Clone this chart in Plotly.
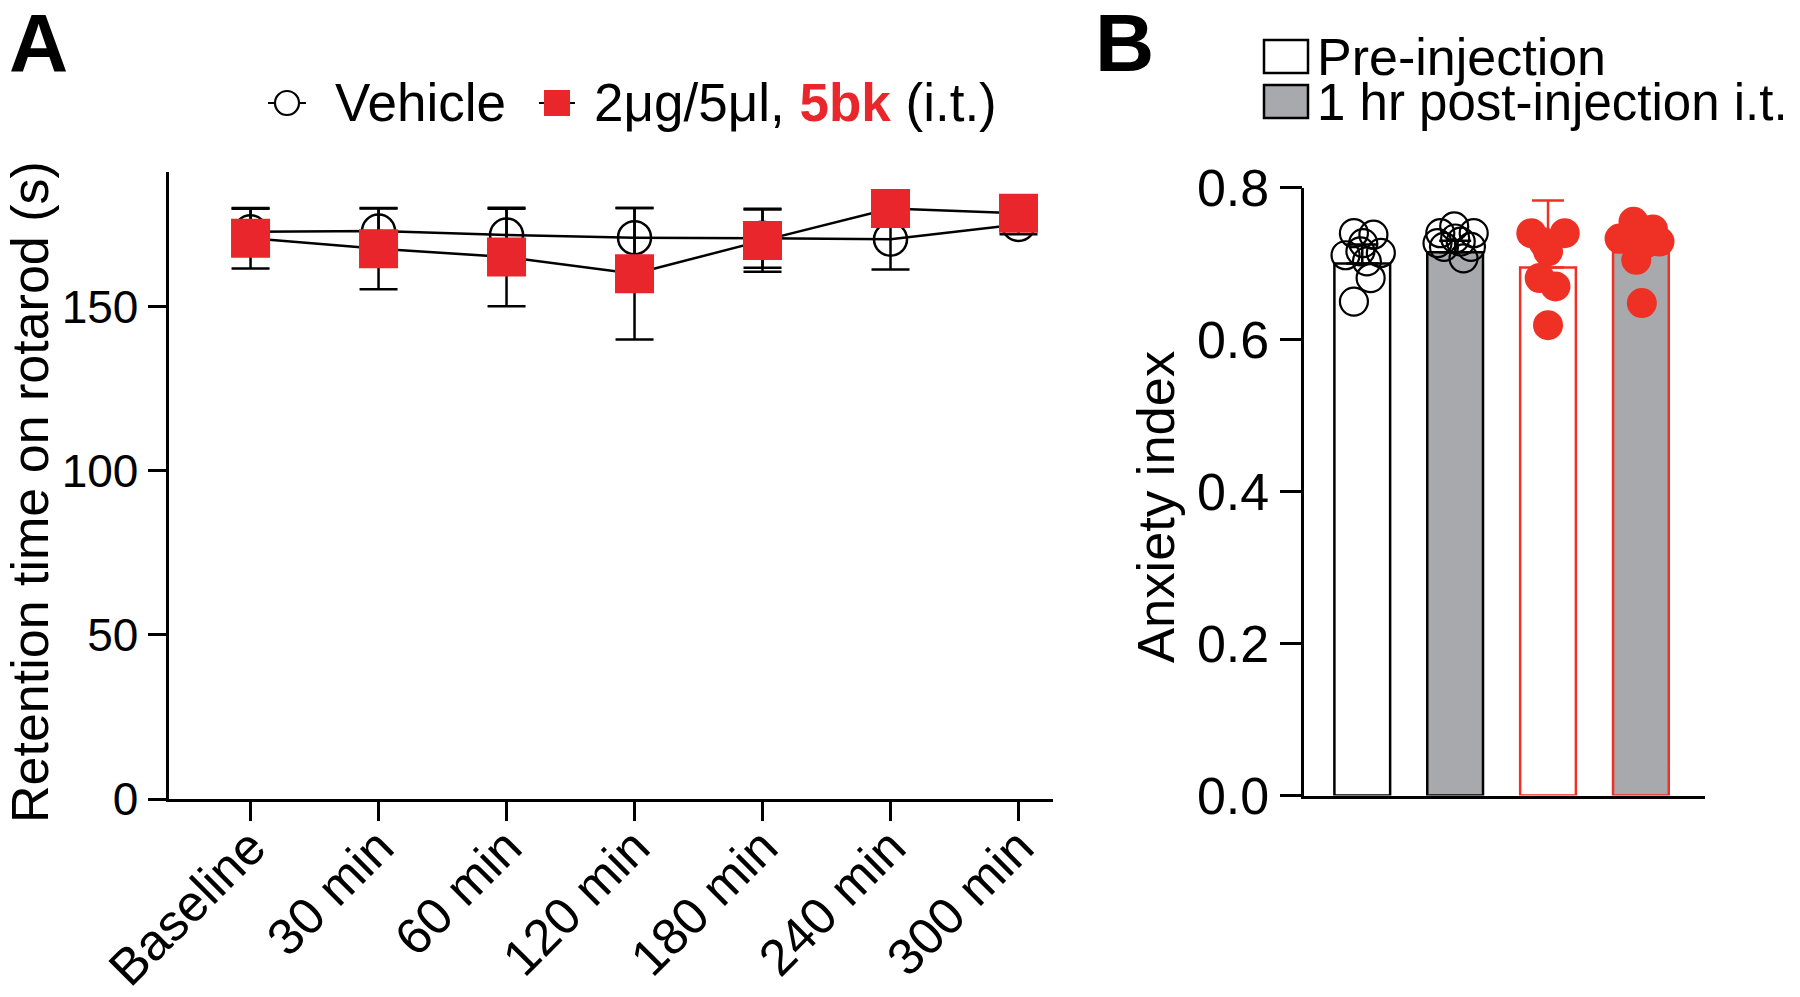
import plotly.graph_objects as go

# ---------------- Panel A data ----------------
time_labels = ["Baseline", "30 min", "60 min", "120 min", "180 min", "240 min", "300 min"]
vehicle_mean = [172.8, 173.0, 171.8, 171.0, 170.8, 170.5, 175.0]
vehicle_sd = [7.0, 7.0, 8.0, 9.0, 9.0, 9.2, 3.0]
bk_mean = [170.8, 167.6, 165.1, 160.0, 170.1, 179.9, 178.4]
bk_sd = [9.2, 12.3, 15.0, 20.0, 9.5, 4.0, 4.0]
yA_ticks = [0, 50, 100, 150]

# ---------------- Panel B data ----------------
groups = ["Vehicle pre", "Vehicle post", "5bk pre", "5bk post"]
bar_means = [0.700, 0.715, 0.695, 0.715]
bar_sd = [0.025, 0.015, 0.088, 0.030]
veh_pre_y = [0.740, 0.738, 0.727, 0.711, 0.714, 0.716, 0.703, 0.681, 0.650]
veh_pre_dx = [-0.09, 0.12, 0.01, -0.18, 0.20, -0.02, 0.05, 0.09, -0.09]
veh_post_y = [0.749, 0.740, 0.740, 0.727, 0.733, 0.729, 0.722, 0.707, 0.722]
veh_post_dx = [-0.01, -0.16, 0.20, -0.19, 0.00, 0.06, -0.12, 0.09, 0.17]
bk_pre_y = [0.740, 0.740, 0.728, 0.716, 0.681, 0.670, 0.619]
bk_pre_dx = [-0.18, 0.18, -0.05, 0.00, -0.09, 0.08, 0.00]
bk_post_y = [0.755, 0.745, 0.733, 0.729, 0.740, 0.727, 0.705, 0.648]
bk_post_dx = [-0.08, 0.13, -0.23, 0.20, -0.01, 0.06, -0.05, 0.01]
yB_ticks = [0.0, 0.2, 0.4, 0.6, 0.8]

RED_A = "#E8262B"
RED_B = "#EE3124"
GRAY = "#A7A9AC"
FONT = "Liberation Sans, Arial, Helvetica, sans-serif"
W, H = 1800, 997


def px(x):
    return x / W


def py(y):
    return 1 - y / H


fig = go.Figure()

# Panel A traces
fig.add_trace(go.Scatter(
    x=time_labels, y=vehicle_mean, name="Vehicle", mode="lines+markers",
    line=dict(color="black", width=2.5),
    marker=dict(symbol="circle-open", size=33, color="black", line=dict(width=2.5)),
    error_y=dict(type="data", array=vehicle_sd, color="black", thickness=2.5, width=19),
    xaxis="x", yaxis="y", cliponaxis=False,
))
fig.add_trace(go.Scatter(
    x=time_labels, y=bk_mean, name="2μg/5μl, 5bk (i.t.)", mode="lines+markers",
    line=dict(color="black", width=2.5),
    marker=dict(symbol="square", size=39, color=RED_A, line=dict(width=0)),
    error_y=dict(type="data", array=bk_sd, color="black", thickness=2.5, width=19),
    xaxis="x", yaxis="y", cliponaxis=False,
))

# Panel B bars
fig.add_trace(go.Bar(
    x=[0, 1], y=bar_means[0:2], name="Vehicle", width=0.6,
    marker=dict(color=["white", GRAY], line=dict(color="black", width=2.5)),
    error_y=dict(type="data", array=bar_sd[0:2], arrayminus=[0, 0], symmetric=False,
                 color="black", thickness=2.5, width=16),
    xaxis="x2", yaxis="y2",
))
fig.add_trace(go.Bar(
    x=[2, 3], y=bar_means[2:4], name="5bk", width=0.6,
    marker=dict(color=["white", GRAY], line=dict(color=RED_B, width=2.5)),
    error_y=dict(type="data", array=bar_sd[2:4], arrayminus=[0, 0], symmetric=False,
                 color=RED_B, thickness=2.5, width=16),
    xaxis="x2", yaxis="y2",
))

# Panel B individual points
def pts(idx, dx, yv, red, name):
    xs = [idx + d for d in dx]
    if red:
        mk = dict(symbol="circle", size=30, color=RED_B, line=dict(width=0))
    else:
        mk = dict(symbol="circle-open", size=28, color="black", line=dict(width=2.2))
    fig.add_trace(go.Scatter(x=xs, y=yv, mode="markers", marker=mk, name=name,
                             xaxis="x2", yaxis="y2", cliponaxis=False))

pts(0, veh_pre_dx, veh_pre_y, False, groups[0])
pts(1, veh_post_dx, veh_post_y, False, groups[1])
pts(2, bk_pre_dx, bk_pre_y, True, groups[2])
pts(3, bk_post_dx, bk_post_y, True, groups[3])

axis_common = dict(showline=True, linecolor="black", linewidth=2.5, showgrid=False,
                   zeroline=False, ticks="outside", tickcolor="black", tickwidth=2.5,
                   automargin=False)

fig.update_layout(
    width=W, height=H, margin=dict(l=0, r=0, t=0, b=0, autoexpand=False),
    paper_bgcolor="white", plot_bgcolor="white", showlegend=False,
    barmode="overlay",
    font=dict(family=FONT, color="black"),
    xaxis=dict(domain=[161.4 / W, 1044.8 / W], anchor="y", type="category",
               range=[-0.634, 6.268], ticklen=19, tickangle=-45, ticklabelstandoff=-24,
               tickfont=dict(size=51, color="black", family=FONT), **axis_common),
    yaxis=dict(domain=[py(791), py(164)], anchor="x", range=[0, 191],
               tickvals=yA_ticks, ticklen=19,
               tickfont=dict(size=46, color="black", family=FONT), **axis_common),
    xaxis2=dict(domain=[1296.4 / W, 1697 / W], anchor="y2", range=[-0.623, 3.69],
                showline=True, linecolor="black", linewidth=2.5, showgrid=False,
                zeroline=False, ticks="", showticklabels=False, automargin=False),
    yaxis2=dict(domain=[py(787.6), py(179.6)], anchor="x2", range=[0, 0.8],
                tickvals=yB_ticks, tickformat=".1f", ticklen=22,
                tickfont=dict(size=52, color="black", family=FONT), **axis_common),
)

ann = []
# Axis titles
ann.append(dict(text="Retention time on rotarod (s)", x=px(22), y=py(484), xref="paper", yref="paper",
                textangle=-90, showarrow=False, xanchor="center", yanchor="middle", borderpad=0,
                font=dict(size=52, color="black", family=FONT)))
ann.append(dict(text="Anxiety index", x=px(1148), y=py(499), xref="paper", yref="paper",
                textangle=-90, showarrow=False, xanchor="center", yanchor="middle",
                font=dict(size=52.5, color="black", family=FONT)))
# Panel letters
ann.append(dict(text="<b>A</b>", x=px(0), y=py(34), xref="paper", yref="paper", showarrow=False,
                xanchor="left", yanchor="middle", borderpad=0,
                font=dict(size=82, color="black", family=FONT)))
ann.append(dict(text="<b>B</b>", x=px(1086), y=py(34), xref="paper", yref="paper", showarrow=False,
                xanchor="left", yanchor="middle", borderpad=0,
                font=dict(size=82, color="black", family=FONT)))
# Legend A texts
ann.append(dict(text="Vehicle", x=px(325), y=py(95), xref="paper", yref="paper", showarrow=False,
                xanchor="left", yanchor="middle", font=dict(size=53, color="black", family=FONT)))
ann.append(dict(text="2μg/5μl, <b><span style='color:%s'>5bk</span></b> (i.t.)" % RED_A,
                x=px(584), y=py(95), xref="paper", yref="paper", showarrow=False,
                xanchor="left", yanchor="middle", font=dict(size=53, color="black", family=FONT)))
# Legend B texts
ann.append(dict(text="Pre-injection", x=px(1308), y=py(49), xref="paper", yref="paper", showarrow=False,
                xanchor="left", yanchor="middle", borderpad=0,
                font=dict(size=52, color="black", family=FONT)))
ann.append(dict(text="1 hr post-injection i.t.", x=px(1308), y=py(95), xref="paper", yref="paper",
                showarrow=False, xanchor="left", yanchor="middle", borderpad=0,
                font=dict(size=51, color="black", family=FONT)))
fig.update_layout(annotations=ann)

shapes = []
# Legend A symbols
shapes.append(dict(type="line", xref="paper", yref="paper", x0=px(260), x1=px(298), y0=py(95), y1=py(95),
                   line=dict(color="black", width=2)))
shapes.append(dict(type="circle", xref="paper", yref="paper", x0=px(267), x1=px(291), y0=py(107), y1=py(83),
                   fillcolor="white", line=dict(color="black", width=2.2)))
shapes.append(dict(type="line", xref="paper", yref="paper", x0=px(531), x1=px(567), y0=py(95), y1=py(95),
                   line=dict(color="black", width=2)))
shapes.append(dict(type="rect", xref="paper", yref="paper", x0=px(536), x1=px(562), y0=py(108), y1=py(82),
                   fillcolor=RED_A, line=dict(width=0)))
# Legend B swatches
shapes.append(dict(type="rect", xref="paper", yref="paper", x0=px(1256), x1=px(1300), y0=py(65), y1=py(32),
                   fillcolor="white", line=dict(color="black", width=2.5)))
shapes.append(dict(type="rect", xref="paper", yref="paper", x0=px(1256), x1=px(1300), y0=py(110), y1=py(77),
                   fillcolor=GRAY, line=dict(color="black", width=2.5)))
fig.update_layout(shapes=shapes)

fig.write_html("out.html")
